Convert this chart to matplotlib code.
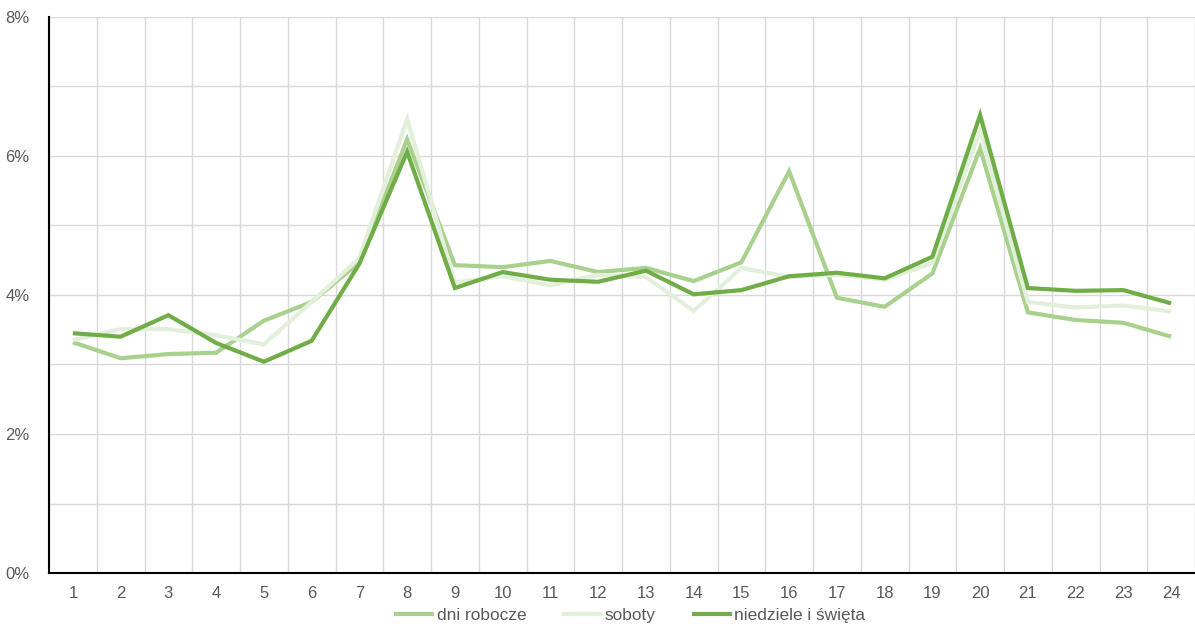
import matplotlib
import numpy as np
from matplotlib import pyplot as plt
from matplotlib.ticker import FuncFormatter, MultipleLocator

matplotlib.rcParams['font.family'] = ['Liberation Sans', 'DejaVu Sans']

hours = list(range(1, 25))
dni_robocze = [3.32, 3.09, 3.15, 3.17, 3.63, 3.90, 4.47, 6.24, 4.43, 4.40, 4.49, 4.33,
               4.39, 4.20, 4.47, 5.78, 3.96, 3.83, 4.31, 6.11, 3.75, 3.64, 3.60, 3.40]
soboty = [3.35, 3.51, 3.51, 3.42, 3.29, 3.90, 4.53, 6.53, 4.18, 4.27, 4.14, 4.29,
          4.26, 3.77, 4.39, 4.26, 4.29, 4.22, 4.46, 6.37, 3.90, 3.82, 3.85, 3.76]
niedziele = [3.45, 3.40, 3.71, 3.31, 3.04, 3.34, 4.45, 6.06, 4.10, 4.33, 4.22, 4.19,
             4.35, 4.01, 4.07, 4.27, 4.32, 4.24, 4.55, 6.59, 4.10, 4.06, 4.07, 3.88]

series = [
    ("dni robocze", dni_robocze, '#a9d18e'),
    ("soboty", soboty, '#e2efda'),
    ("niedziele i święta", niedziele, '#70ad47'),
]

fig = plt.figure(figsize=(11.95, 6.24), dpi=100)
ax = fig.add_axes([49 / 1195, 51 / 624, 1146 / 1195, 556 / 624])

for name, values, color in series:
    ax.plot(hours, values, color=color, linewidth=3, label=name,
            solid_joinstyle='miter', solid_capstyle='butt', zorder=3)

# osie i siatka
ax.set_xlim(0.5, 24.5)
ax.set_ylim(0, 8)
ax.set_xticks(hours)
ax.set_xticks(np.arange(0.5, 25, 1), minor=True)
ax.yaxis.set_major_locator(MultipleLocator(2))
ax.yaxis.set_minor_locator(MultipleLocator(1))
ax.yaxis.set_major_formatter(FuncFormatter(lambda v, _: f"{v:.0f}%"))
ax.grid(which='minor', axis='x', color='#d9d9d9', linewidth=1)
ax.grid(which='both', axis='y', color='#d9d9d9', linewidth=1)
ax.set_axisbelow(True)
ax.tick_params(which='both', length=0, labelsize=12, colors='#595959')
ax.tick_params(axis='x', pad=9)
ax.tick_params(axis='y', pad=14)

for side in ('top', 'right'):
    ax.spines[side].set_visible(False)
for side in ('left', 'bottom'):
    ax.spines[side].set_color('black')
    ax.spines[side].set_linewidth(1.5)

fig.legend(loc='center', bbox_to_anchor=(0.5268, 0.0144), ncol=3, frameon=False,
           borderaxespad=0, borderpad=0, fontsize=12.4, handlelength=2.33,
           handletextpad=0.12, columnspacing=2.1, labelcolor='#595959')

plt.savefig('out.png', dpi=100)
